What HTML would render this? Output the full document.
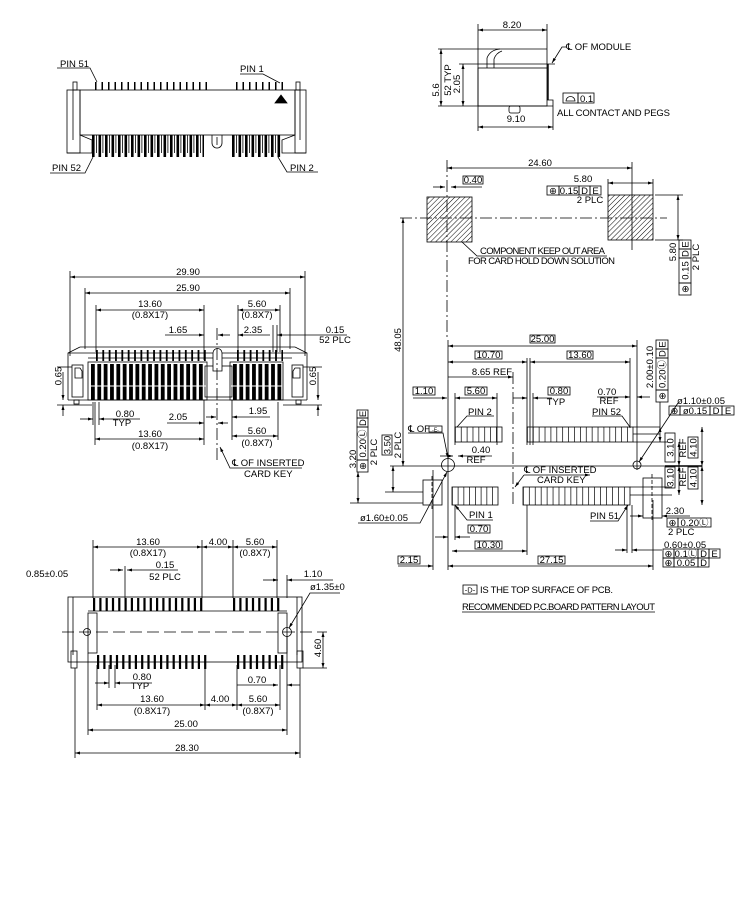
<!DOCTYPE html>
<html><head><meta charset="utf-8">
<style>
html,body{margin:0;padding:0;background:#fff}
svg{display:block;font-family:"Liberation Sans","DejaVu Sans","Noto Sans CJK SC",sans-serif;font-size:9.5px}
.d{marker-start:url(#a);marker-end:url(#a)}
.e{marker-end:url(#a)}
.c{stroke-dasharray:12 3 2 3}
.m{text-anchor:middle}
</style></head><body>
<svg width="750" height="900" viewBox="0 0 750 900" xmlns="http://www.w3.org/2000/svg">
<defs>
<marker id="a" viewBox="0 0 10 6" refX="10" refY="3" markerWidth="6" markerHeight="3" orient="auto-start-reverse" markerUnits="userSpaceOnUse"><path d="M0,0L10,3L0,6z" fill="#000"/></marker>
<pattern id="hh" width="3.6" height="3.6" patternUnits="userSpaceOnUse" patternTransform="rotate(45)"><line x1="0" y1="0" x2="0" y2="3.6" stroke="#000" stroke-width="1"/></pattern>
</defs>
<rect width="750" height="900" fill="#fff"/>

<g stroke="#000" stroke-width="0.8" fill="none">
<!-- ===== A: top-left view ===== -->
<polyline points="57,68 90,68 97,82"/>
<polyline points="240,74 263,74 280,83"/>
<line x1="95" y1="86" x2="207" y2="86" stroke-width="8" stroke-dasharray="1.5 5"/>
<line x1="236" y1="86" x2="283" y2="86" stroke-width="8" stroke-dasharray="1.5 5"/>
<rect x="80" y="90" width="215" height="45"/>
<rect x="67" y="90" width="13" height="63"/>
<line x1="73" y1="90" x2="73" y2="140"/>
<rect x="295" y="90" width="11" height="63"/>
<line x1="300" y1="90" x2="300" y2="140"/>
<rect x="73" y="82" width="4" height="8"/>
<rect x="296" y="82" width="4" height="8"/>
<polyline points="80,135 92,140 92,153 67,153"/>
<polyline points="295,135 282,140 282,153 306,153"/>
<line x1="92" y1="146" x2="204" y2="146" stroke-width="22" stroke-dasharray="2.6 3.9"/>
<line x1="232" y1="146" x2="281" y2="146" stroke-width="22" stroke-dasharray="2.6 3.9"/>
<line x1="96" y1="144" x2="204" y2="144" stroke-width="18" stroke-dasharray="0.8 5.7"/>
<line x1="236" y1="144" x2="281" y2="144" stroke-width="18" stroke-dasharray="0.8 5.7"/>
<path d="M212,135 V143 A5,5 0 0 0 222,143 V135"/>
<line x1="217" y1="137" x2="217" y2="145"/>
<polygon points="275,103 287,103 281,95" fill="#000"/>
<polyline points="50,173 85,173 93,157"/>
<polyline points="318,172 287,172 278,157"/>

<!-- ===== B: side view ===== -->
<line class="d" x1="478" y1="30" x2="547" y2="30"/>
<line x1="478" y1="24" x2="478" y2="131"/>
<line x1="547" y1="24" x2="547" y2="68"/>
<line x1="438" y1="49" x2="547" y2="49"/>
<line x1="459" y1="64" x2="555" y2="64"/>
<rect x="478" y="68" width="69" height="38"/>
<path d="M487,68 V58 Q490,50 500,49"/>
<path d="M494,68 V59 Q496,53 502,51"/>
<line x1="548" y1="64" x2="548" y2="100" stroke-width="1.4"/>
<polyline points="547,100 553,100 553,106"/>
<line x1="438" y1="106" x2="553" y2="106"/>
<line x1="553" y1="106" x2="553" y2="130"/>
<rect x="509" y="106" width="11" height="7" rx="2"/>
<line class="d" x1="441" y1="49" x2="441" y2="106"/>
<line class="d" x1="463" y1="64" x2="463" y2="106"/>
<line class="d" x1="478" y1="127" x2="553" y2="127"/>
<polyline class="e" points="567,47 562,47 552,63"/>
<rect x="563" y="93" width="15" height="10"/><rect x="578" y="93" width="16" height="10"/>
<path d="M566,101 A4.5,4.5 0 0 1 575,101 Z"/>

<!-- ===== C: front view ===== -->
<line class="d" x1="70" y1="277" x2="305" y2="277"/>
<line x1="70" y1="271" x2="70" y2="356"/>
<line x1="305" y1="271" x2="305" y2="356"/>
<line class="d" x1="85" y1="293" x2="290" y2="293"/>
<line x1="85" y1="288" x2="85" y2="349"/>
<line x1="290" y1="288" x2="290" y2="349"/>
<line class="d" x1="96" y1="310" x2="204" y2="310"/>
<line x1="96" y1="305" x2="96" y2="352"/>
<line x1="204" y1="305" x2="204" y2="360"/>
<line class="d" x1="238" y1="310" x2="280" y2="310"/>
<line x1="238" y1="305" x2="238" y2="352"/>
<line x1="280" y1="305" x2="280" y2="352"/>
<line class="e" x1="165" y1="335" x2="204" y2="335"/>
<line class="e" x1="230" y1="335" x2="218" y2="335"/>
<line class="e" x1="270" y1="335" x2="238" y2="335"/>
<line class="e" x1="347" y1="335" x2="277" y2="335"/>
<line x1="273" y1="325" x2="273" y2="352"/>
<line x1="277" y1="325" x2="277" y2="352"/>
<line x1="80" y1="347" x2="295" y2="347"/>
<polyline points="68,400 68,353 80,347"/>
<polyline points="307,400 307,353 295,347"/>
<line x1="68" y1="353" x2="307" y2="353"/>
<line x1="88" y1="358" x2="292" y2="358"/>
<line x1="68" y1="400" x2="307" y2="400"/>
<rect x="72" y="365" width="11" height="32"/>
<polygon points="75,368 80,368 82,371 82,378 75,378"/>
<rect x="292" y="365" width="11" height="32"/>
<polygon points="300,368 295,368 293,371 293,378 300,378"/>
<rect x="205" y="366" width="27" height="31"/>
<line x1="96" y1="355.5" x2="206" y2="355.5" stroke-width="11" stroke-dasharray="1.8 4.55"/>
<line x1="237" y1="355.5" x2="283" y2="355.5" stroke-width="11" stroke-dasharray="1.8 4.55"/>
<rect x="88" y="362" width="119" height="38"/>
<rect x="230" y="362" width="53" height="38"/>
<line x1="91" y1="382" x2="205" y2="382" stroke-width="36" stroke-dasharray="3.8 2.55"/>
<line x1="233" y1="382" x2="282" y2="382" stroke-width="36" stroke-dasharray="3.8 2.55"/>
<line x1="89" y1="386" x2="206" y2="386" stroke="#fff" stroke-width="1"/>
<line x1="231" y1="386" x2="282" y2="386" stroke="#fff" stroke-width="1"/>
<path d="M213,371 V353 A4.5,4.5 0 0 1 222,353 V371 Z" fill="#fff"/>
<rect x="74" y="400" width="5" height="4"/>
<rect x="296" y="400" width="5" height="4"/>
<line x1="57" y1="367" x2="72" y2="367"/>
<line x1="57" y1="405" x2="92" y2="405"/>
<line x1="283" y1="405" x2="322" y2="405"/>
<line x1="303" y1="367" x2="322" y2="367"/>
<line class="e" x1="63" y1="372" x2="63" y2="400"/>
<line class="e" x1="63" y1="416" x2="63" y2="405"/>
<line class="e" x1="318" y1="372" x2="318" y2="400"/>
<line class="e" x1="318" y1="416" x2="318" y2="405"/>
<line x1="93" y1="402" x2="93" y2="425"/>
<line x1="99" y1="402" x2="99" y2="425"/>
<line class="e" x1="80" y1="419" x2="93" y2="419"/>
<line class="e" x1="140" y1="419" x2="99" y2="419"/>
<line class="e" x1="167" y1="423" x2="204" y2="423"/>
<line x1="204" y1="400" x2="204" y2="445"/>
<line class="e" x1="228" y1="423" x2="218" y2="423"/>
<line class="e" x1="270" y1="417" x2="232" y2="417"/>
<line class="e" x1="206" y1="417" x2="216" y2="417"/>
<line x1="232" y1="400" x2="232" y2="440"/>
<line class="d" x1="95" y1="439" x2="204" y2="439"/>
<line x1="95" y1="402" x2="95" y2="445"/>
<line class="d" x1="232" y1="436" x2="278" y2="436"/>
<line x1="278" y1="402" x2="278" y2="440"/>
<line class="c" x1="217" y1="328" x2="217" y2="462"/>
<polyline class="e" points="302,468 230,468 220,447"/>

<!-- ===== D: bottom view ===== -->
<line class="d" x1="93" y1="547" x2="202" y2="547"/>
<line class="d" x1="202" y1="547" x2="233" y2="547"/>
<line class="d" x1="233" y1="547" x2="277" y2="547"/>
<line x1="93" y1="540" x2="93" y2="598"/>
<line x1="202" y1="540" x2="202" y2="598"/>
<line x1="233" y1="540" x2="233" y2="598"/>
<line x1="277" y1="540" x2="277" y2="598"/>
<line class="e" x1="110" y1="570" x2="123" y2="570"/>
<line class="e" x1="178" y1="570" x2="127" y2="570"/>
<line x1="125" y1="566" x2="125" y2="598"/>
<line class="e" x1="263" y1="580" x2="278" y2="580"/>
<line class="e" x1="333" y1="580" x2="287" y2="580"/>
<line x1="287" y1="575" x2="287" y2="598"/>
<polyline class="e" points="340,593 310,593 289,628"/>
<rect x="68" y="597" width="234" height="65"/>
<line x1="73" y1="597" x2="73" y2="655"/>
<line x1="297" y1="597" x2="297" y2="655"/>
<line x1="88" y1="611" x2="287" y2="611"/>
<line x1="93" y1="604.5" x2="203" y2="604.5" stroke-width="13" stroke-dasharray="2.2 4.1"/>
<line x1="233" y1="604.5" x2="280" y2="604.5" stroke-width="13" stroke-dasharray="2.2 4.1"/>
<line x1="97" y1="662" x2="207" y2="662" stroke-width="14" stroke-dasharray="2.2 4.1"/>
<line x1="237" y1="662" x2="284" y2="662" stroke-width="14" stroke-dasharray="2.2 4.1"/>
<rect x="88" y="613" width="9" height="40"/>
<rect x="278" y="613" width="9" height="40"/>
<line x1="62" y1="632" x2="327" y2="632" stroke-dasharray="12 5"/>
<circle cx="87" cy="632" r="3.5"/>
<circle cx="287" cy="632" r="4.5"/>
<rect x="71" y="651" width="6" height="17"/>
<rect x="297" y="651" width="6" height="17"/>
<line class="d" x1="323" y1="632" x2="323" y2="668"/>
<line x1="303" y1="668" x2="327" y2="668"/>
<line x1="109" y1="665" x2="109" y2="688"/>
<line x1="115" y1="665" x2="115" y2="688"/>
<line class="e" x1="95" y1="683" x2="109" y2="683"/>
<line class="e" x1="152" y1="683" x2="115" y2="683"/>
<line class="e" x1="237" y1="685" x2="278" y2="685"/>
<line class="e" x1="300" y1="685" x2="287" y2="685"/>
<line class="d" x1="97" y1="705" x2="205" y2="705"/>
<line class="d" x1="205" y1="705" x2="237" y2="705"/>
<line class="d" x1="237" y1="705" x2="280" y2="705"/>
<line x1="97" y1="665" x2="97" y2="710"/>
<line x1="205" y1="665" x2="205" y2="710"/>
<line x1="237" y1="665" x2="237" y2="710"/>
<line x1="280" y1="665" x2="280" y2="710"/>
<line class="d" x1="88" y1="730" x2="287" y2="730"/>
<line x1="88" y1="653" x2="88" y2="735"/>
<line x1="287" y1="636" x2="287" y2="735"/>
<line class="d" x1="75" y1="753" x2="300" y2="753"/>
<line x1="75" y1="668" x2="75" y2="758"/>
<line x1="300" y1="668" x2="300" y2="758"/>

<!-- ===== E: PCB layout ===== -->
<line class="d" x1="447" y1="168" x2="632" y2="168"/>
<line x1="632" y1="162" x2="632" y2="250"/>
<line class="c" x1="447" y1="160" x2="447" y2="340"/>
<rect x="463" y="176" width="20" height="8"/>
<line class="e" x1="433" y1="187" x2="445" y2="187"/>
<line class="e" x1="482" y1="187" x2="451" y2="187"/>
<rect x="427" y="197" width="45" height="45" fill="url(#hh)"/>
<rect x="608" y="195" width="45" height="45" fill="url(#hh)"/>
<line class="c" x1="400" y1="218" x2="667" y2="218"/>
<line class="d" x1="608" y1="183" x2="653" y2="183"/>
<line x1="608" y1="179" x2="608" y2="195"/>
<line x1="653" y1="179" x2="653" y2="195"/>
<rect x="547" y="186" width="12" height="9"/><rect x="559" y="186" width="20" height="9"/><rect x="579" y="186" width="11" height="9"/><rect x="590" y="186" width="11" height="9"/>
<line class="d" x1="678" y1="195" x2="678" y2="240"/>
<line x1="655" y1="195" x2="683" y2="195"/>
<line x1="655" y1="240" x2="683" y2="240"/>
<rect x="679" y="240" width="12" height="9"/><rect x="679" y="249" width="12" height="9"/><rect x="679" y="258" width="12" height="25"/><rect x="679" y="283" width="12" height="12"/>
<polyline points="607,256 477,256 462,242"/>
<line class="d" x1="403" y1="218" x2="403" y2="466"/>

<rect x="530" y="335" width="25" height="8"/>
<line class="d" x1="448" y1="346" x2="637" y2="346"/>
<line x1="448" y1="340" x2="448" y2="570"/>
<line x1="637" y1="340" x2="637" y2="470"/>
<rect x="475" y="351" width="27" height="8"/>
<line class="d" x1="448" y1="362" x2="527" y2="362"/>
<rect x="567" y="351" width="26" height="8"/>
<line class="d" x1="530" y1="362" x2="630" y2="362"/>
<line x1="527" y1="358" x2="527" y2="445"/>
<line x1="530" y1="358" x2="530" y2="445"/>
<line x1="630" y1="358" x2="630" y2="428"/>
<line class="e" x1="448" y1="377" x2="513" y2="377"/>
<line class="c" x1="513" y1="372" x2="513" y2="505"/>
<rect x="413" y="387" width="22" height="8"/>
<line class="e" x1="413" y1="398" x2="447" y2="398"/>
<rect x="465" y="387" width="22" height="8"/>
<line class="d" x1="455" y1="398" x2="497" y2="398"/>
<line x1="455" y1="393" x2="455" y2="445"/>
<line x1="497" y1="393" x2="497" y2="445"/>
<rect x="548" y="387" width="22" height="8"/>
<line class="e" x1="513" y1="398" x2="527" y2="398"/>
<line class="e" x1="552" y1="398" x2="533" y2="398"/>
<line x1="533" y1="393" x2="533" y2="445"/>
<line class="e" x1="597" y1="397" x2="630" y2="397"/>
<line class="e" x1="650" y1="397" x2="637" y2="397"/>
<polyline points="494,416 467,416 457,427"/>
<polyline points="592,416 622,416 630,427"/>
<!-- pads -->
<rect x="455" y="427" width="47" height="15"/>
<line x1="455" y1="434.5" x2="502" y2="434.5" stroke-width="15" stroke-dasharray="0.7 5.175"/>
<rect x="527" y="427" width="106" height="15"/>
<line x1="527" y1="434.5" x2="633" y2="434.5" stroke-width="15" stroke-dasharray="0.7 5.19"/>
<rect x="452" y="487" width="46" height="18"/>
<line x1="452" y1="496" x2="498" y2="496" stroke-width="18" stroke-dasharray="0.7 5.05"/>
<rect x="523" y="487" width="107" height="18"/>
<line x1="523" y1="496" x2="630" y2="496" stroke-width="18" stroke-dasharray="0.7 5.24"/>
<line x1="633" y1="427" x2="660" y2="427"/>
<line x1="633" y1="434" x2="660" y2="434"/>
<line x1="633" y1="442" x2="668" y2="442"/>
<line x1="630" y1="487" x2="672" y2="487"/>
<line x1="630" y1="495" x2="672" y2="495"/>
<!-- 2.00 box -->
<rect x="656" y="340" width="12" height="9"/><rect x="656" y="349" width="12" height="9"/><rect x="656" y="358" width="12" height="32"/><rect x="656" y="390" width="12" height="12"/>
<line class="d" x1="660" y1="427" x2="660" y2="442"/>
<line x1="660" y1="402" x2="660" y2="427"/>
<rect x="429" y="426" width="13" height="6"/>
<polyline class="e" points="408,433 443,433 448,458"/>
<line class="e" x1="492" y1="456" x2="458" y2="456"/>
<line class="e" x1="440" y1="456" x2="453" y2="456"/>
<circle cx="448" cy="465" r="6.5"/>
<circle cx="637" cy="465" r="4"/>
<line x1="390" y1="466" x2="702" y2="466"/>
<line x1="665" y1="466" x2="702" y2="466" stroke-width="1.6"/>
<polyline class="e" points="524,475 590,475"/>
<polyline class="e" points="524,475 515,487"/>
<!-- left -->
<rect x="357" y="410" width="11" height="8"/><rect x="357" y="418" width="11" height="9"/><rect x="357" y="427" width="11" height="33"/><rect x="357" y="460" width="11" height="12"/>
<rect x="382" y="435" width="10" height="20"/>
<rect x="423" y="480" width="19" height="25"/>
<line x1="432" y1="476" x2="432" y2="509" stroke-dasharray="4 2"/>
<line x1="433" y1="470" x2="433" y2="570"/>
<line class="d" x1="393" y1="466" x2="393" y2="492"/>
<line x1="385" y1="492" x2="423" y2="492"/>
<line x1="350" y1="503" x2="423" y2="503"/>
<line class="d" x1="358" y1="472" x2="358" y2="503"/>
<polyline class="e" points="358,523 420,523 447,472"/>
<polyline class="e" points="493,520 467,520 455,505"/>
<polyline class="e" points="590,521 618,521 628,505"/>
<rect x="468" y="525" width="22" height="8"/>
<line class="e" x1="435" y1="537" x2="448" y2="537"/>
<line class="e" x1="470" y1="537" x2="455" y2="537"/>
<line x1="455" y1="505" x2="455" y2="540"/>
<rect x="475" y="541" width="27" height="8"/>
<line class="d" x1="452" y1="551" x2="527" y2="551"/>
<line x1="527" y1="505" x2="527" y2="555"/>
<rect x="398" y="556" width="22" height="8"/>
<line class="e" x1="398" y1="566" x2="433" y2="566"/>
<rect x="538" y="556" width="27" height="8"/>
<line class="d" x1="448" y1="566" x2="653" y2="566"/>
<line x1="653" y1="500" x2="653" y2="570"/>
<line x1="627" y1="505" x2="627" y2="553"/>
<line x1="632" y1="505" x2="632" y2="553"/>
<line class="e" x1="615" y1="550" x2="627" y2="550"/>
<line class="e" x1="662" y1="550" x2="632" y2="550"/>
<!-- right -->
<rect x="643" y="478" width="19" height="40"/>
<line x1="652" y1="474" x2="652" y2="522" stroke-dasharray="4 2"/>
<line class="e" x1="690" y1="516" x2="662" y2="516"/>
<line class="e" x1="630" y1="516" x2="643" y2="516"/>
<line class="e" x1="678" y1="403" x2="639" y2="462"/>
<rect x="669" y="406" width="11" height="9"/><rect x="680" y="406" width="30" height="9"/><rect x="710" y="406" width="12" height="9"/><rect x="722" y="406" width="12" height="9"/>
<rect x="665" y="433" width="10" height="29"/><rect x="688" y="437" width="10" height="21"/>
<rect x="665" y="467" width="10" height="21"/><rect x="688" y="467" width="10" height="22"/>
<line class="d" x1="679" y1="442" x2="679" y2="466"/>
<line class="d" x1="679" y1="466" x2="679" y2="495"/>
<line class="d" x1="702" y1="427" x2="702" y2="466"/>
<line class="d" x1="702" y1="466" x2="702" y2="505"/>
<rect x="667" y="518" width="11" height="9"/><rect x="678" y="518" width="33" height="9"/>
<rect x="663" y="549" width="11" height="9"/><rect x="674" y="549" width="24" height="9"/><rect x="698" y="549" width="11" height="9"/><rect x="709" y="549" width="11" height="9"/>
<rect x="663" y="558" width="11" height="9"/><rect x="674" y="558" width="24" height="9"/><rect x="698" y="558" width="11" height="9"/>
<rect x="463" y="585" width="14" height="9"/>
<line x1="462" y1="612" x2="655" y2="612"/>
</g>

<g fill="#000">
<!-- A -->
<text x="60" y="67">PIN 51</text>
<text x="240" y="72">PIN 1</text>
<text x="52" y="171">PIN 52</text>
<text x="290" y="171">PIN 2</text>
<!-- B -->
<text class="m" x="512" y="28">8.20</text>
<text class="m" transform="translate(439,90) rotate(-90)">5.6</text>
<text class="m" transform="translate(451,80) rotate(-90)">52 TYP</text>
<text class="m" transform="translate(460,84) rotate(-90)">2.05</text>
<text x="566" y="50">℄ OF MODULE</text>
<text x="580" y="102">0.1</text>
<text x="557" y="116" textLength="113">ALL CONTACT AND PEGS</text>
<text class="m" x="516" y="122">9.10</text>
<!-- C -->
<text class="m" x="188" y="275">29.90</text>
<text class="m" x="188" y="291">25.90</text>
<text class="m" x="150" y="307">13.60</text>
<text class="m" x="150" y="318">(0.8X17)</text>
<text class="m" x="257" y="307">5.60</text>
<text class="m" x="257" y="318">(0.8X7)</text>
<text class="m" x="178" y="333">1.65</text>
<text class="m" x="253" y="333">2.35</text>
<text class="m" x="335" y="333">0.15</text>
<text class="m" x="335" y="343">52 PLC</text>
<text class="m" transform="translate(61.5,376) rotate(-90)">0.65</text>
<text class="m" transform="translate(316,376) rotate(-90)">0.65</text>
<text class="m" x="125" y="417">0.80</text>
<text class="m" x="122" y="426">TYP</text>
<text class="m" x="178" y="420">2.05</text>
<text class="m" x="258" y="414">1.95</text>
<text class="m" x="257" y="434">5.60</text>
<text class="m" x="257" y="446">(0.8X7)</text>
<text class="m" x="150" y="437">13.60</text>
<text class="m" x="150" y="449">(0.8X17)</text>
<text x="232" y="466">℄ OF INSERTED</text>
<text x="244" y="477">CARD KEY</text>
<!-- D -->
<text class="m" x="148" y="545">13.60</text>
<text class="m" x="148" y="556">(0.8X17)</text>
<text class="m" x="218" y="545">4.00</text>
<text class="m" x="255" y="545">5.60</text>
<text class="m" x="255" y="556">(0.8X7)</text>
<text x="26" y="577">0.85±0.05</text>
<text class="m" x="165" y="568">0.15</text>
<text class="m" x="165" y="580">52 PLC</text>
<text class="m" x="313" y="577">1.10</text>
<text x="310" y="590">ø1.35±0</text>
<text class="m" transform="translate(321,648) rotate(-90)">4.60</text>
<text class="m" x="142" y="680">0.80</text>
<text class="m" x="140" y="689">TYP</text>
<text class="m" x="257" y="683">0.70</text>
<text class="m" x="152" y="702">13.60</text>
<text class="m" x="152" y="714">(0.8X17)</text>
<text class="m" x="220" y="702">4.00</text>
<text class="m" x="258" y="702">5.60</text>
<text class="m" x="258" y="714">(0.8X7)</text>
<text class="m" x="186" y="727">25.00</text>
<text class="m" x="187" y="751">28.30</text>
<!-- E -->
<text class="m" x="540" y="166">24.60</text>
<text class="m" x="473" y="183">0.40</text>
<text class="m" x="583" y="182">5.80</text>
<text class="m" x="553" y="194">⊕</text>
<text class="m" x="569" y="194">0.15</text>
<text class="m" x="584.5" y="194">D</text>
<text class="m" x="595.5" y="194">E</text>
<text class="m" x="590" y="203">2 PLC</text>
<text x="480" y="254" textLength="125">COMPONENT KEEP OUT AREA</text>
<text x="468" y="264" textLength="147">FOR CARD HOLD DOWN SOLUTION</text>
<text class="m" transform="translate(676,252) rotate(-90)">5.80</text>
<text class="m" transform="translate(688.5,244.5) rotate(-90)">E</text>
<text class="m" transform="translate(688.5,253.5) rotate(-90)">D</text>
<text class="m" transform="translate(688.5,270.5) rotate(-90)">0.15</text>
<text class="m" transform="translate(688.5,289) rotate(-90)">⊕</text>
<text class="m" transform="translate(699,257) rotate(-90)">2 PLC</text>
<text class="m" transform="translate(401,340) rotate(-90)">48.05</text>
<text class="m" x="542.5" y="342">25.00</text>
<text class="m" x="488.5" y="358">10.70</text>
<text class="m" x="580" y="358">13.60</text>
<text class="m" x="492" y="375">8.65 REF</text>
<text class="m" x="424" y="394">1.10</text>
<text class="m" x="476" y="394">5.60</text>
<text class="m" x="559" y="394">0.80</text>
<text class="m" x="556" y="405">TYP</text>
<text class="m" x="607" y="395">0.70</text>
<text class="m" x="609" y="404">REF</text>
<text x="468" y="415">PIN 2</text>
<text x="592" y="415">PIN 52</text>
<text class="m" transform="translate(653,367) rotate(-90)">2.00±0.10</text>
<text class="m" transform="translate(665.5,344.5) rotate(-90)">E</text>
<text class="m" transform="translate(665.5,353.5) rotate(-90)">D</text>
<text class="m" transform="translate(665.5,374) rotate(-90)">0.20Ⓛ</text>
<text class="m" transform="translate(665.5,396) rotate(-90)">⊕</text>
<text x="408" y="432">℄ OF</text>
<text class="m" x="435.5" y="431.5" style="font-size:5px">-E-</text>
<text class="m" x="481" y="453">0.40</text>
<text class="m" x="476" y="463">REF</text>
<text x="524" y="473">℄ OF INSERTED</text>
<text x="537" y="483">CARD KEY</text>
<text class="m" transform="translate(366,414) rotate(-90)">E</text>
<text class="m" transform="translate(366,422.5) rotate(-90)">D</text>
<text class="m" transform="translate(366,443.5) rotate(-90)">0.20Ⓛ</text>
<text class="m" transform="translate(366,466) rotate(-90)">⊕</text>
<text class="m" transform="translate(356,459) rotate(-90)">3.20</text>
<text class="m" transform="translate(377,452) rotate(-90)">2 PLC</text>
<text class="m" transform="translate(390.5,445) rotate(-90)">3.50</text>
<text class="m" transform="translate(401,445) rotate(-90)">2 PLC</text>
<text x="360" y="521">ø1.60±0.05</text>
<text x="469" y="518">PIN 1</text>
<text x="590" y="519">PIN 51</text>
<text class="m" x="479" y="532">0.70</text>
<text class="m" x="488.5" y="548">10.30</text>
<text class="m" x="409" y="563">2.15</text>
<text class="m" x="551.5" y="563">27.15</text>
<text x="677" y="404">ø1.10±0.05</text>
<text class="m" x="674.5" y="414">⊕</text>
<text class="m" x="695" y="414">ø0.15</text>
<text class="m" x="716" y="414">D</text>
<text class="m" x="728" y="414">E</text>
<text class="m" transform="translate(673.5,447.5) rotate(-90)">3.10</text>
<text class="m" transform="translate(686,448) rotate(-90)">REF</text>
<text class="m" transform="translate(696.5,447.5) rotate(-90)">4.10</text>
<text class="m" transform="translate(673.5,477.5) rotate(-90)">3.10</text>
<text class="m" transform="translate(686,477) rotate(-90)">REF</text>
<text class="m" transform="translate(696.5,478) rotate(-90)">4.10</text>
<text class="m" x="675" y="514">2.30</text>
<text class="m" x="672.5" y="526">⊕</text>
<text class="m" x="694.5" y="526">0.20Ⓛ</text>
<text x="668" y="535">2 PLC</text>
<text x="664" y="548">0.60±0.05</text>
<text class="m" x="668.5" y="557">⊕</text>
<text class="m" x="686" y="557">0.1Ⓛ</text>
<text class="m" x="703.5" y="557">D</text>
<text class="m" x="714.5" y="557">E</text>
<text class="m" x="668.5" y="566">⊕</text>
<text class="m" x="686" y="566">0.05</text>
<text class="m" x="703.5" y="566">D</text>
<text class="m" x="470" y="592.5" style="font-size:7.5px">-D-</text>
<text x="480" y="593" textLength="133">IS THE TOP SURFACE OF PCB.</text>
<text x="462" y="610" textLength="193">RECOMMENDED P.C.BOARD PATTERN LAYOUT</text>
</g>
</svg>
</body></html>
